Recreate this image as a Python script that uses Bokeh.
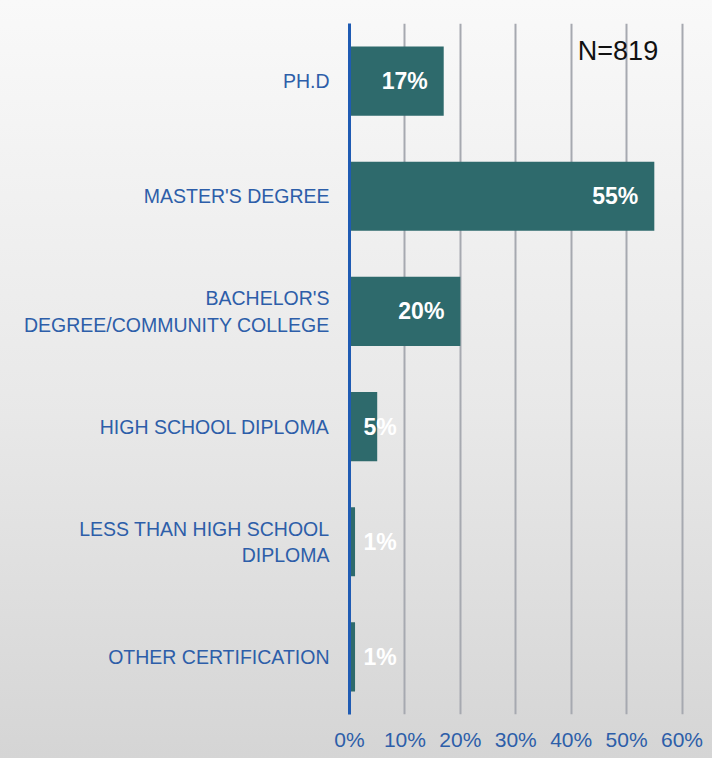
from bokeh.plotting import figure
from bokeh.models import ColumnDataSource, FixedTicker, FactorRange
from bokeh.core.properties import value
from bokeh.embed import file_html
from bokeh.resources import INLINE

categories = ["PH.D", "MASTER'S DEGREE", "BACHELOR'S\nDEGREE/COMMUNITY COLLEGE",
              "HIGH SCHOOL DIPLOMA", "LESS THAN HIGH SCHOOL\nDIPLOMA", "OTHER CERTIFICATION"]
values = [17, 55, 20, 5, 1, 1]
labels = ["17%", "55%", "20%", "5%", "1%", "1%"]
tick_values = [0, 10, 20, 30, 40, 50, 60]
tick_labels = ["0%", "10%", "20%", "30%", "40%", "50%", "60%"]
n_note = "N=819"

FONT = "Liberation Sans"

src = ColumnDataSource(dict(
    cat=categories, val=values, lab=labels,
    lx=[max(v, 11.4) for v in values],
))

p = figure(width=712, height=758, output_backend="svg", toolbar_location=None,
           y_range=FactorRange(factors=list(reversed(categories)), range_padding=0),
           x_range=(0, 65.5))
p.min_border_left = 349
p.min_border_right = 0
p.min_border_top = 23
p.min_border_bottom = 44
p.outline_line_color = None
p.background_fill_alpha = 0
p.border_fill_alpha = 0
p.styles = {"background-image": "linear-gradient(to bottom, #f9f9f9 0%, #e8e8e8 55%, #d5d5d5 100%)"}

p.hbar(y="cat", right="val", left=0, height=0.6, source=src,
       fill_color="#2e6a6c", line_color=None)

p.text(x="lx", y="cat", text="lab", source=src, x_offset=-16,
       text_align="right", text_baseline="middle", text_color="white",
       text_font=value(FONT), text_font_style="bold", text_font_size="23px")

p.text(x=[41.2], y=[categories[0]], text=[n_note], y_offset=-30,
       text_align="left", text_baseline="middle", text_color="#111111",
       text_font=value(FONT), text_font_size="27px")

# x axis
p.xaxis.ticker = FixedTicker(ticks=tick_values)
p.xaxis.major_label_overrides = {t: l for t, l in zip(tick_values, tick_labels)}
p.xaxis.axis_line_color = None
p.xaxis.major_tick_line_color = None
p.xaxis.minor_tick_line_color = None
p.xaxis.major_label_standoff = 7
p.xaxis.major_label_text_font = FONT
p.xaxis.major_label_text_font_size = "21px"
p.xaxis.major_label_text_color = "#2d5ea9"

p.xgrid.ticker = FixedTicker(ticks=tick_values)
p.xgrid.grid_line_color = "#a6a9b0"
p.xgrid.grid_line_width = 2
p.ygrid.grid_line_color = None

# y axis
p.yaxis.axis_line_color = "#1f5bb3"
p.yaxis.axis_line_width = 3
p.yaxis.major_tick_line_color = None
p.yaxis.minor_tick_line_color = None
p.yaxis.major_label_standoff = 14
p.yaxis.major_label_text_font = FONT
p.yaxis.major_label_text_font_size = "19.5px"
p.yaxis.major_label_text_color = "#2d5ea9"

open("out.html", "w").write(file_html(p, INLINE))
